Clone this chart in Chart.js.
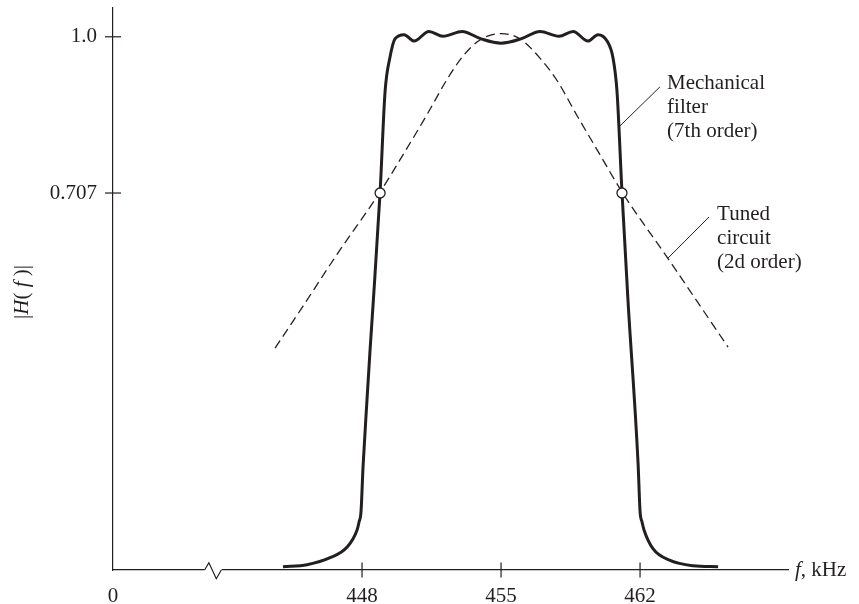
<!DOCTYPE html>
<html>
<head>
<meta charset="utf-8">
<title>Mechanical filter vs tuned circuit</title>
<script src="https://cdn.jsdelivr.net/npm/chart.js@4"></script>
<style>
  body { margin: 0; background: #fff; }
  canvas { display: block; }
</style>
</head>
<body>
<canvas id="filter-chart" width="859" height="604"></canvas>
<script>
// values (f in kHz, |H(f)| relative)
var mechFreq = [444.02, 445.23, 446.39, 447.25, 447.75, 447.85, 447.95, 448.05, 448.25, 448.40, 448.56, 448.91,
                449.16, 449.41, 449.66, 450.12, 450.62, 451.37, 452.08, 453.04, 454.0, 455.0,
                456.0, 456.96, 457.92, 458.63, 459.38, 459.88, 460.34, 460.64, 460.84, 461.09,
                461.39, 461.9, 462.0, 462.1, 462.2, 462.65, 463.51, 464.67, 465.93];
var mechMag  = [0.006, 0.010, 0.023, 0.043, 0.075, 0.090, 0.110, 0.193, 0.319, 0.41, 0.50, 0.709,
                0.897, 0.962, 0.996, 1.004, 0.992, 1.010, 1.001, 1.010, 0.996, 0.988,
                0.996, 1.010, 1.001, 1.010, 0.992, 1.004, 0.992, 0.960, 0.897, 0.709,
                0.507, 0.20, 0.110, 0.090, 0.075, 0.040, 0.018, 0.008, 0.006];

var tunedFreq = [443.62, 445.03, 446.74, 448.91, 450.07, 451.27, 452.28, 453.09, 453.94, 455.0,
                 455.96, 456.96, 457.82, 458.83, 459.98, 461.09, 463.41, 466.43];
var tunedMag  = [0.416, 0.495, 0.592, 0.709, 0.779, 0.854, 0.920, 0.964, 0.994, 1.006,
                 0.996, 0.960, 0.918, 0.852, 0.779, 0.709, 0.584, 0.418];

// half-power points marked with open circles
var halfFreq = [448.91, 461.09];
var halfMag  = [0.707, 0.707];

var xRange = [435.46, 469.45];
var xTickValues = [435.46, 448, 455, 462];
var xTickLabels = ['0', '448', '455', '462'];
var yRange = [0, 1.054];
var yTickValues = [0.707, 1.0];
var yTickLabels = ['0.707', '1.0'];
var breakAt = 440.5;

var INK = '#231f20';
var SERIF = '"Liberation Serif", "Times New Roman", serif';

function toPoints(xs, ys) {
    return xs.map(function(v, i) { return { x: v, y: ys[i] }; });
}

// draw a run of text pieces, some in italics
function richText(ctx, parts, x, y, align) {
    var total = 0;
    parts.forEach(function(p) {
        ctx.font = (p.italic ? 'italic ' : '') + '21px ' + SERIF;
        p.w = ctx.measureText(p.t).width;
        total += p.w;
    });
    var cx = align === 'center' ? x - total / 2 : x;
    parts.forEach(function(p) {
        ctx.font = (p.italic ? 'italic ' : '') + '21px ' + SERIF;
        ctx.fillText(p.t, cx, y);
        cx += p.w;
    });
}

var decorations = {
    id: 'decorations',
    afterDraw: function(chart) {
        var ctx = chart.ctx;
        var x = chart.scales.x, y = chart.scales.y, area = chart.chartArea;
        ctx.save();
        ctx.strokeStyle = INK;
        ctx.fillStyle = INK;
        ctx.lineWidth = 1.2;

        function seg(x1, y1, x2, y2) {
            ctx.beginPath();
            ctx.moveTo(x1, y1);
            ctx.lineTo(x2, y2);
            ctx.stroke();
        }

        // tick marks crossing the axes
        x.ticks.forEach(function(t, i) {
            if (i === 0) return;
            var px = x.getPixelForValue(t.value);
            seg(px, area.bottom - 7.5, px, area.bottom + 7.5);
        });
        y.ticks.forEach(function(t) {
            var py = y.getPixelForValue(t.value);
            seg(area.left - 8, py, area.left + 8, py);
        });

        // axis break
        var bx = x.getPixelForValue(breakAt), by = area.bottom;
        ctx.fillStyle = '#fff';
        ctx.fillRect(bx - 8.5, by - 2, 17, 4);
        ctx.beginPath();
        ctx.moveTo(bx - 8.5, by);
        ctx.lineTo(bx - 4.2, by - 7.3);
        ctx.lineTo(bx + 3.2, by + 8.7);
        ctx.lineTo(bx + 8.2, by);
        ctx.stroke();
        ctx.fillStyle = INK;

        // leader lines
        ctx.lineWidth = 1;
        seg(x.getPixelForValue(460.94), y.getPixelForValue(0.831),
            x.getPixelForValue(463.0), y.getPixelForValue(0.906));
        seg(x.getPixelForValue(463.41), y.getPixelForValue(0.585),
            x.getPixelForValue(465.47), y.getPixelForValue(0.662));

        // curve labels
        ctx.font = '21px ' + SERIF;
        ctx.textAlign = 'left';
        ctx.textBaseline = 'middle';
        var mx = x.getPixelForValue(463.36), my = y.getPixelForValue(0.912);
        ['Mechanical', 'filter', '(7th order)'].forEach(function(s, i) {
            ctx.fillText(s, mx, my + i * 24);
        });
        var tx = x.getPixelForValue(465.88), ty = y.getPixelForValue(0.667);
        ['Tuned', 'circuit', '(2d order)'].forEach(function(s, i) {
            ctx.fillText(s, tx, ty + i * 24);
        });

        // axis titles
        richText(ctx, [{ t: 'f', italic: true }, { t: ', kHz' }], area.right + 7, area.bottom, 'left');
        ctx.translate(22, (area.top + area.bottom) / 2 + 3);
        ctx.rotate(-Math.PI / 2);
        richText(ctx, [{ t: '|' }, { t: 'H', italic: true }, { t: '( ' }, { t: 'f', italic: true }, { t: ' )|' }], 0, 0, 'center');
        ctx.restore();
    }
};

document.addEventListener('DOMContentLoaded', function() {
    var ctx = document.getElementById('filter-chart').getContext('2d');
    Chart.defaults.color = INK;
    Chart.defaults.font.family = SERIF;
    Chart.defaults.font.size = 21;

    new Chart(ctx, {
        type: 'line',
        data: {
            datasets: [
                {
                    label: 'Half-power points',
                    data: toPoints(halfFreq, halfMag),
                    showLine: false,
                    pointRadius: 5,
                    pointBackgroundColor: '#fff',
                    pointBorderColor: INK,
                    pointBorderWidth: 1.3
                },
                {
                    label: 'Mechanical filter (7th order)',
                    data: toPoints(mechFreq, mechMag),
                    borderColor: INK,
                    borderWidth: 3,
                    pointRadius: 0,
                    cubicInterpolationMode: 'monotone',
                    fill: false
                },
                {
                    label: 'Tuned circuit (2d order)',
                    data: toPoints(tunedFreq, tunedMag),
                    borderColor: INK,
                    borderWidth: 1.3,
                    borderDash: [9, 5],
                    pointRadius: 0,
                    cubicInterpolationMode: 'monotone',
                    fill: false
                }
            ]
        },
        options: {
            responsive: false,
            animation: false,
            layout: { padding: { left: 0, top: 8, right: 71, bottom: 0 } },
            plugins: { legend: { display: false }, tooltip: { enabled: false } },
            scales: {
                x: {
                    type: 'linear',
                    min: xRange[0],
                    max: xRange[1],
                    grid: { display: false, drawTicks: false },
                    border: { display: true, color: INK, width: 1.2 },
                    afterBuildTicks: function(scale) {
                        scale.ticks = xTickValues.map(function(v) { return { value: v }; });
                    },
                    afterFit: function(scale) {
                        scale.height = 34;
                        scale.paddingLeft = 0;
                        scale.paddingRight = 0;
                    },
                    ticks: {
                        autoSkip: false,
                        maxRotation: 0,
                        padding: 14,
                        callback: function(value, index) { return xTickLabels[index]; }
                    }
                },
                y: {
                    min: yRange[0],
                    max: yRange[1],
                    grid: { display: false, drawTicks: false },
                    border: { display: true, color: INK, width: 1.2 },
                    afterBuildTicks: function(scale) {
                        scale.ticks = yTickValues.map(function(v) { return { value: v }; });
                    },
                    afterFit: function(scale) {
                        scale.width = 113;
                        scale.paddingTop = 0;
                        scale.paddingBottom = 0;
                    },
                    ticks: {
                        padding: 16,
                        callback: function(value, index) { return yTickLabels[index]; }
                    }
                }
            }
        },
        plugins: [decorations]
    });
});
</script>
</body>
</html>
